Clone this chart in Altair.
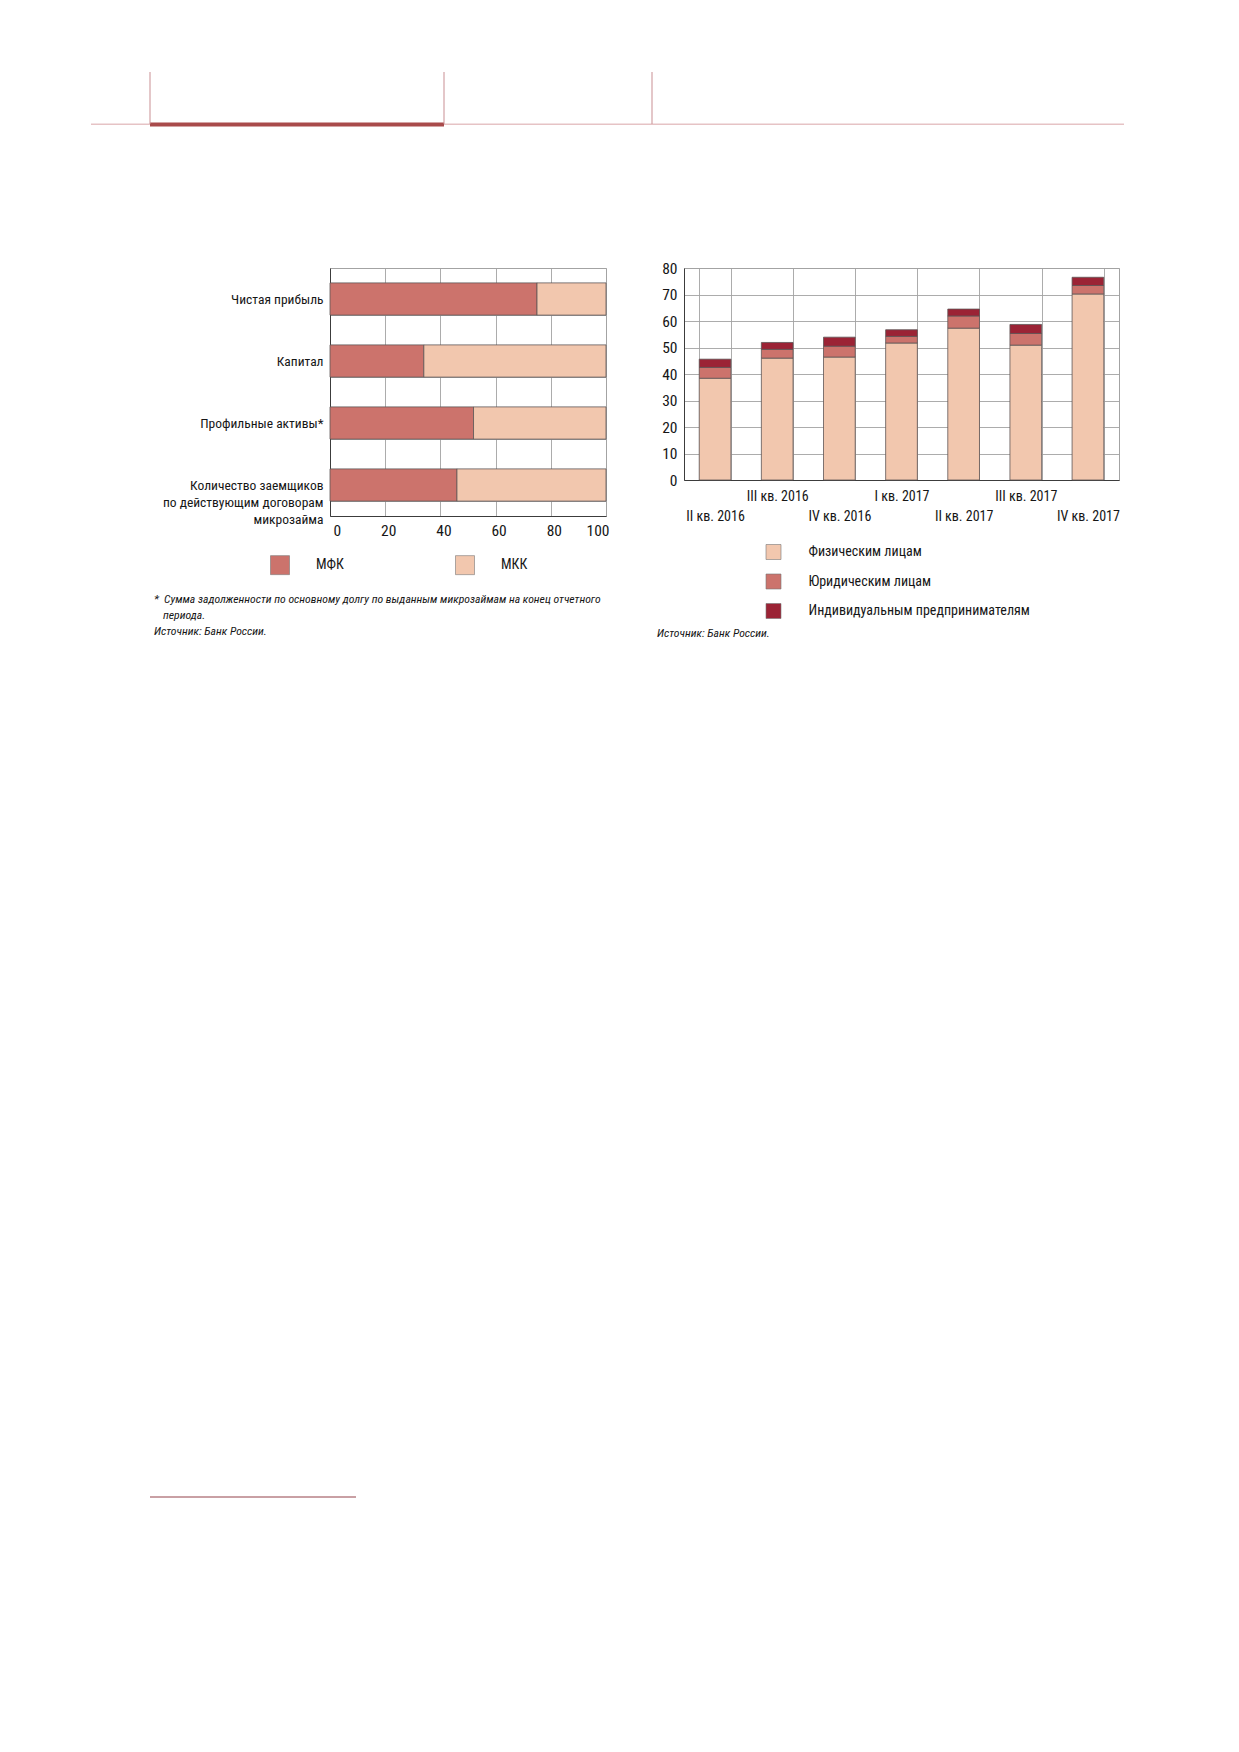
import json
import altair as alt
import pandas as pd

FONT = "'Roboto Condensed', 'Liberation Sans Narrow', 'DejaVu Sans Condensed', Roboto, sans-serif"

# ---------------- left chart data ----------------
borrowers_label_lines = ["Количество заемщиков", "по действующим договорам", "микрозайма"]
left_categories = ["Чистая прибыль", "Капитал", "Профильные активы*", " ".join(borrowers_label_lines)]
mfk_share = [75, 34, 52, 46]
mkk_share = [25, 66, 48, 54]
left_series = ["МФК", "МКК"]
left_colors = ["#CC736C", "#F2C7AE"]
left_ticks = [0, 20, 40, 60, 80, 100]

footnote_star = "*"
footnote_line1 = "Сумма задолженности по основному долгу по выданным микрозаймам на конец отчетного"
footnote_line2 = "периода."
source_text = "Источник: Банк России."

# ---------------- right chart data ----------------
quarters = ["II кв. 2016", "III кв. 2016", "IV кв. 2016", "I кв. 2017",
            "II кв. 2017", "III кв. 2017", "IV кв. 2017"]
upper_row_quarters = ["III кв. 2016", "I кв. 2017", "III кв. 2017"]
phys = [38.4, 46.0, 46.4, 51.7, 57.3, 50.9, 70.2]
legal = [4.1, 3.3, 4.1, 2.5, 4.6, 4.4, 3.2]
entrepreneurs = [3.1, 2.6, 3.4, 2.5, 2.6, 3.4, 3.1]
right_series = ["Физическим лицам", "Юридическим лицам", "Индивидуальным предпринимателям"]
right_colors = ["#F2C7AE", "#CC736C", "#9B2335"]
right_ticks = [0, 10, 20, 30, 40, 50, 60, 70, 80]

# ---------------- tables ----------------
left_rows = []
for cat, a, b in zip(left_categories, mfk_share, mkk_share):
    left_rows.append({"category": cat, "series": left_series[0], "share": a, "ord": 0})
    left_rows.append({"category": cat, "series": left_series[1], "share": b, "ord": 1})
left_df = pd.DataFrame(left_rows)

right_rows = []
for q, p, l, e in zip(quarters, phys, legal, entrepreneurs):
    for i, (s, v) in enumerate(zip(right_series, [p, l, e])):
        right_rows.append({"quarter": q, "group": s, "amount": v, "ord": i})
right_df = pd.DataFrame(right_rows)

BAR_STROKE = "#5e5656"
GRID = "#a3a3a3"
DOMAIN = "#3c3c3c"
TXT = "#161616"

long_cat = left_categories[3]
y_label_expr = ("datum.value == " + json.dumps(long_cat, ensure_ascii=False) + " ? "
                + json.dumps(borrowers_label_lines, ensure_ascii=False) + " : datum.label")

left_bars = alt.Chart(left_df).mark_bar(stroke=BAR_STROKE, strokeWidth=0.8).encode(
    y=alt.Y("category:N", sort=left_categories,
            scale=alt.Scale(paddingInner=0.48, paddingOuter=0.24),
            axis=alt.Axis(title=None, ticks=False, grid=True, tickBand="extent",
                          labelFontSize=13.5, labelPadding=7, labelLimit=400,
                          labelLineHeight=17, labelExpr=y_label_expr)),
    x=alt.X("share:Q", stack="zero", scale=alt.Scale(domain=[0, 100], nice=False),
            axis=alt.Axis(title=None, values=left_ticks, ticks=False, grid=True,
                          labelFontSize=15.5, labelPadding=7, labelOffset=3)),
    color=alt.Color("series:N", scale=alt.Scale(domain=left_series, range=left_colors),
                    legend=alt.Legend(title=None, orient="none", legendX=-60, legendY=287,
                                      direction="horizontal", symbolType="square", symbolSize=361,
                                      symbolStrokeColor="#777", symbolStrokeWidth=0.6,
                                      labelOffset=26, columnPadding=110, labelFontSize=14,
                                      labelLimit=400)),
    order=alt.Order("ord:Q"),
)


def one_row(name):
    return pd.DataFrame({"t": [name]})


def rule(name, color, width, **enc):
    return alt.Chart(one_row(name)).mark_rule(color=color, strokeWidth=width).encode(**enc)


def note(text, x, y, size=11.7, italic=True):
    return alt.Chart(one_row(text)).mark_text(
        font=FONT, fontSize=size, fontStyle="italic" if italic else "normal",
        align="left", baseline="middle", color=TXT
    ).encode(text="t:N", x=alt.value(x), y=alt.value(y))


# page furniture around the charts
header_line = rule("header", "#e6c3c5", 1.5, x=alt.value(-239), x2=alt.value(794), y=alt.value(-143.7))
header_bar = rule("bar", "#a94b4b", 4, x=alt.value(-180), x2=alt.value(114), y=alt.value(-143.5))
vline1 = rule("v1", "#c98f93", 1, x=alt.value(-180), y=alt.value(-196), y2=alt.value(-144))
vline2 = rule("v2", "#c98f93", 1, x=alt.value(114), y=alt.value(-196), y2=alt.value(-144))
vline3 = rule("v3", "#c98f93", 1, x=alt.value(322), y=alt.value(-196), y2=alt.value(-144))
footer_line = rule("footer", "#c9a0a4", 2, x=alt.value(-180), x2=alt.value(26), y=alt.value(1229))

left_notes = (note(footnote_star, -176, 331) + note(footnote_line1, -166, 331)
              + note(footnote_line2, -167, 347) + note(source_text, -176, 363))

left = alt.layer(left_bars, header_line, header_bar, vline1, vline2, vline3, footer_line,
                 left_notes).properties(width=276, height=248)

upper_test = "indexof(" + json.dumps(upper_row_quarters, ensure_ascii=False) + ", datum.value) >= 0"

right_bars = alt.Chart(right_df).mark_bar(stroke=BAR_STROKE, strokeWidth=0.8).encode(
    x=alt.X("quarter:N", sort=quarters,
            scale=alt.Scale(paddingInner=0.49, paddingOuter=0.245),
            axis=alt.Axis(title=None, labelAngle=0, ticks=False, grid=True, tickBand="extent",
                          labelFontSize=14, labelOverlap=False, labelBaseline="top",
                          labelPadding={"condition": {"test": upper_test, "value": 9}, "value": 29})),
    y=alt.Y("amount:Q", stack="zero", scale=alt.Scale(domain=[0, 80], nice=False),
            axis=alt.Axis(title=None, values=right_ticks, ticks=False, grid=True,
                          labelFontSize=15.5, labelPadding=7)),
    color=alt.Color("group:N", scale=alt.Scale(domain=right_series, range=right_colors),
                    legend=alt.Legend(title=None, orient="none", legendX=81.5, legendY=276,
                                      direction="vertical", symbolType="square", symbolSize=225,
                                      symbolStrokeColor="#777", symbolStrokeWidth=0.6,
                                      labelOffset=27, rowPadding=11.5, labelFontSize=14,
                                      labelLimit=400)),
    order=alt.Order("ord:Q"),
)

right = alt.layer(right_bars, note(source_text, -27, 365)).properties(width=435, height=212)

chart = alt.hconcat(left, right, spacing=78, bounds="flush").resolve_scale(
    color="independent").resolve_legend(color="independent").properties(
    padding={"left": 81, "top": 63, "right": 10, "bottom": 10}
).configure(font=FONT).configure_view(
    stroke=GRID, strokeWidth=1
).configure_axis(
    labelFont=FONT, labelColor=TXT, domainColor=DOMAIN, domainWidth=1,
    gridColor=GRID, gridWidth=0.9
).configure_legend(labelFont=FONT, labelColor=TXT)

chart.save("out.html", embed_options={"renderer": "svg", "actions": False})
